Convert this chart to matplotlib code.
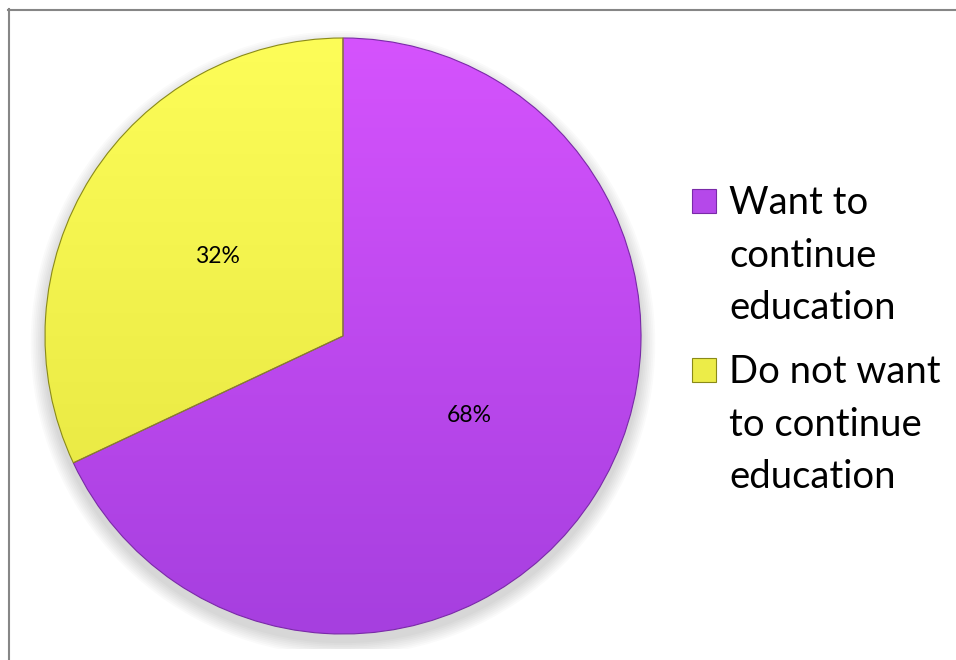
import numpy as np
import matplotlib
matplotlib.use("Agg")
import matplotlib.pyplot as plt
from matplotlib.patches import Rectangle, Circle
from matplotlib.colors import LinearSegmentedColormap
from matplotlib.lines import Line2D

categories = ["Want to\ncontinue\neducation", "Do not want\nto continue\neducation"]
shares = [68, 32]
top_colors = ["#d553fd", "#fdfd58"]
bottom_colors = ["#a63fdf", "#e3e33e"]
edge_colors = ["#7a2aa8", "#8a8a18"]
legend_colors = ["#b548ea", "#ecec48"]

plt.rcParams["font.family"] = ["Lato", "DejaVu Sans"]

W, H = 956, 660
fig = plt.figure(figsize=(W / 100, H / 100), dpi=100)
fig.patch.set_facecolor("white")

# chart frame (top and left edges visible)
fig.add_artist(Line2D([8 / W, 955 / W], [1 - 9.5 / H, 1 - 9.5 / H],
                      transform=fig.transFigure, color="#868686", lw=1.5))
fig.add_artist(Line2D([8.5 / W, 8.5 / W], [1 - 9 / H, 0],
                      transform=fig.transFigure, color="#868686", lw=1.5))

# pie axes: centre (343, 336) px, radius 298 px
R, cx, cy, lim = 298, 343, 336, 1.05
side = 2 * lim * R
ax = fig.add_axes([(cx - side / 2) / W, (H - cy - side / 2) / H, side / W, side / H])

# soft drop shadow under the pie
for k in range(8):
    ax.add_patch(Circle((0, -0.025), 1.0 + 0.006 * (8 - k), color="black",
                        alpha=0.018, lw=0, zorder=0))

wedges, texts, autotexts = ax.pie(
    shares, startangle=90, counterclock=False, radius=1.0,
    autopct="%1.0f%%", pctdistance=0.5,
    wedgeprops=dict(linewidth=0), textprops=dict(fontsize=16.5, color="black"),
)
ax.set_xlim(-lim, lim)
ax.set_ylim(-lim, lim)
ax.set_aspect("equal")

for w, c0, c1, ec in zip(wedges, top_colors, bottom_colors, edge_colors):
    w.set_facecolor("none")
    cmap = LinearSegmentedColormap.from_list("g", [c1, c0])
    grad = np.linspace(0, 1, 256).reshape(-1, 1)
    im = ax.imshow(grad, cmap=cmap, extent=(-1, 1, -1, 1), origin="lower",
                   aspect="auto", zorder=1)
    im.set_clip_path(w)
    w.set_edgecolor(ec)
    w.set_linewidth(0.8)
    w.set_zorder(2)
for t in autotexts:
    t.set_zorder(3)
ax.axis("off")

# legend: square key aligned with the first line of each label
key_tops = [189, 358]
for label, color, ec, top in zip(categories, legend_colors, edge_colors, key_tops):
    fig.add_artist(Rectangle((692 / W, 1 - (top + 24) / H), 24 / W, 24 / H,
                             transform=fig.transFigure, facecolor=color,
                             edgecolor=ec, lw=0.8))
    fig.text(729 / W, 1 - (top - 4) / H, label, fontsize=27.5, va="top",
             ha="left", linespacing=1.57, color="black")

fig.savefig("out.png", dpi=100)
